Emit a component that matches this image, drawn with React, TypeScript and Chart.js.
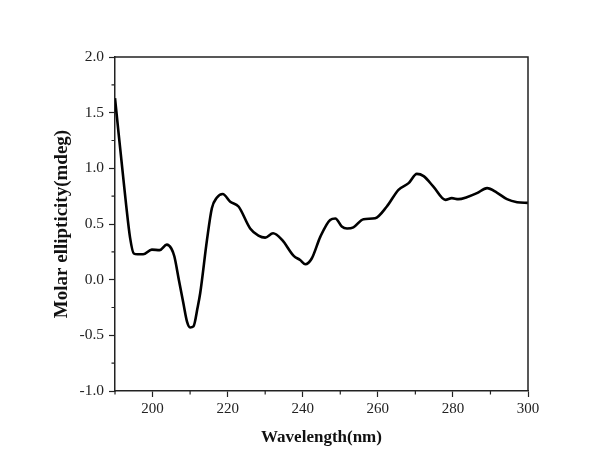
import React, { useEffect, useRef } from "react";
import { Chart, registerables } from "chart.js";

Chart.register(...registerables);

const WAVELENGTH = [
  190, 191, 192, 193, 194, 195, 196, 197.5, 199.8, 201.9, 203.8, 205.0, 205.8, 207, 208.2, 209.2, 210.0,
  210.9, 212, 212.7, 214.5, 215.8, 217.1, 218.7, 220.7, 222.9, 226.0, 228.2, 230.0, 232.1, 234.5, 237.6,
  239.3, 240.7, 242.4, 244.7, 247.3, 248.7, 250.4, 251.8, 253.5, 256.2, 259.3, 262.4, 265.5, 268.2, 270.4,
  272.2, 274.8, 278.0, 279.7, 281.5, 283.7, 286.4, 289.1, 291.7, 294.4, 297.1, 300,
];
const ELLIPTICITY = [
  1.63, 1.3, 0.98, 0.66, 0.38, 0.235, 0.228, 0.228, 0.27, 0.265, 0.315, 0.28, 0.21, 0.0, -0.21, -0.38, -0.43,
  -0.42, -0.25, -0.12, 0.357, 0.642, 0.735, 0.77, 0.7, 0.657, 0.46, 0.396, 0.378, 0.417, 0.357, 0.213,
  0.177, 0.139, 0.19, 0.387, 0.537, 0.55, 0.477, 0.46, 0.47, 0.543, 0.552, 0.657, 0.807, 0.867, 0.95,
  0.93, 0.836, 0.717, 0.732, 0.723, 0.741, 0.777, 0.822, 0.782, 0.723, 0.696, 0.69,
];
const X_MAJOR_TICKS = [200, 220, 240, 260, 280, 300];
const X_MINOR_TICKS = [190, 210, 230, 250, 270, 290];
const Y_MAJOR_TICKS = [-1.0, -0.5, 0.0, 0.5, 1.0, 1.5, 2.0];
const Y_MINOR_TICKS = [-0.75, -0.25, 0.25, 0.75, 1.25, 1.75];
const X_TITLE = "Wavelength(nm)";
const Y_TITLE = "Molar ellipticity(mdeg)";

const AXIS_COLOR = "#222";

const framePlugin = {
  id: "frameAndMinor",
  afterDraw(chart: any) {
    const { ctx, chartArea } = chart;
    const xs = chart.scales.x;
    const ys = chart.scales.y;
    ctx.save();
    ctx.strokeStyle = AXIS_COLOR;
    ctx.lineWidth = 1.5;
    ctx.beginPath();
    ctx.moveTo(chartArea.left, chartArea.top);
    ctx.lineTo(chartArea.right, chartArea.top);
    ctx.lineTo(chartArea.right, chartArea.bottom);
    ctx.stroke();
    ctx.lineWidth = 1.2;
    ctx.beginPath();
    for (const v of X_MINOR_TICKS) {
      const px = xs.getPixelForValue(v);
      ctx.moveTo(px, chartArea.bottom);
      ctx.lineTo(px, chartArea.bottom + 3.5);
    }
    for (const v of Y_MINOR_TICKS) {
      const py = ys.getPixelForValue(v);
      ctx.moveTo(chartArea.left, py);
      ctx.lineTo(chartArea.left - 3.5, py);
    }
    ctx.stroke();
    ctx.restore();
  },
};

export default function App() {
  const ref = useRef<HTMLCanvasElement | null>(null);
  useEffect(() => {
    if (!ref.current) return;
    const chart = new Chart(ref.current, {
      type: "line",
      data: {
        datasets: [
          {
            data: WAVELENGTH.map((x, i) => ({ x, y: ELLIPTICITY[i] })),
            borderColor: "#000",
            borderWidth: 2.6,
            pointRadius: 0,
            cubicInterpolationMode: "monotone",
            fill: false,
          },
        ],
      },
      options: {
        animation: false,
        responsive: true,
        maintainAspectRatio: false,
        layout: { padding: { top: 57, right: 73, left: 0, bottom: 0 } },
        plugins: { legend: { display: false }, tooltip: { enabled: false } },
        scales: {
          x: {
            type: "linear",
            min: 190,
            max: 300,
            afterBuildTicks: (s: any) => {
              s.ticks = X_MAJOR_TICKS.map((v) => ({ value: v }));
            },
            afterFit: (s: any) => {
              s.height = 68;
            },
            grid: {
              drawOnChartArea: false,
              drawTicks: true,
              tickLength: 6,
              tickColor: AXIS_COLOR,
              tickWidth: 1.2,
            },
            border: { display: true, color: AXIS_COLOR, width: 1.5 },
            ticks: {
              color: "#222",
              padding: 3,
              maxRotation: 0,
              font: { family: "'Liberation Serif', 'Times New Roman', serif", size: 15 },
              callback: (v: any) => String(v),
            },
            title: {
              display: true,
              text: X_TITLE,
              color: "#111",
              padding: { top: 0, bottom: 11 },
              font: { family: "'Liberation Serif', 'Times New Roman', serif", size: 17, weight: "bold" },
            },
          },
          y: {
            type: "linear",
            min: -1,
            max: 2,
            afterBuildTicks: (s: any) => {
              s.ticks = Y_MAJOR_TICKS.map((v) => ({ value: v }));
            },
            afterFit: (s: any) => {
              s.width = 115;
            },
            grid: {
              drawOnChartArea: false,
              drawTicks: true,
              tickLength: 6,
              tickColor: AXIS_COLOR,
              tickWidth: 1.2,
            },
            border: { display: true, color: AXIS_COLOR, width: 1.5 },
            ticks: {
              color: "#222",
              padding: 5,
              font: { family: "'Liberation Serif', 'Times New Roman', serif", size: 15.5 },
              callback: (v: any) => Number(v).toFixed(1),
            },
            title: {
              display: true,
              text: Y_TITLE,
              color: "#111",
              padding: { top: 51, bottom: 0 },
              font: { family: "'Liberation Serif', 'Times New Roman', serif", size: 19, weight: "bold" },
            },
          },
        },
      },
      plugins: [framePlugin],
    });
    return () => chart.destroy();
  }, []);
  return (
    <div style={{ position: "absolute", left: 0, top: 0, width: 601, height: 459, background: "#fff" }}>
      <canvas ref={ref} />
    </div>
  );
}
